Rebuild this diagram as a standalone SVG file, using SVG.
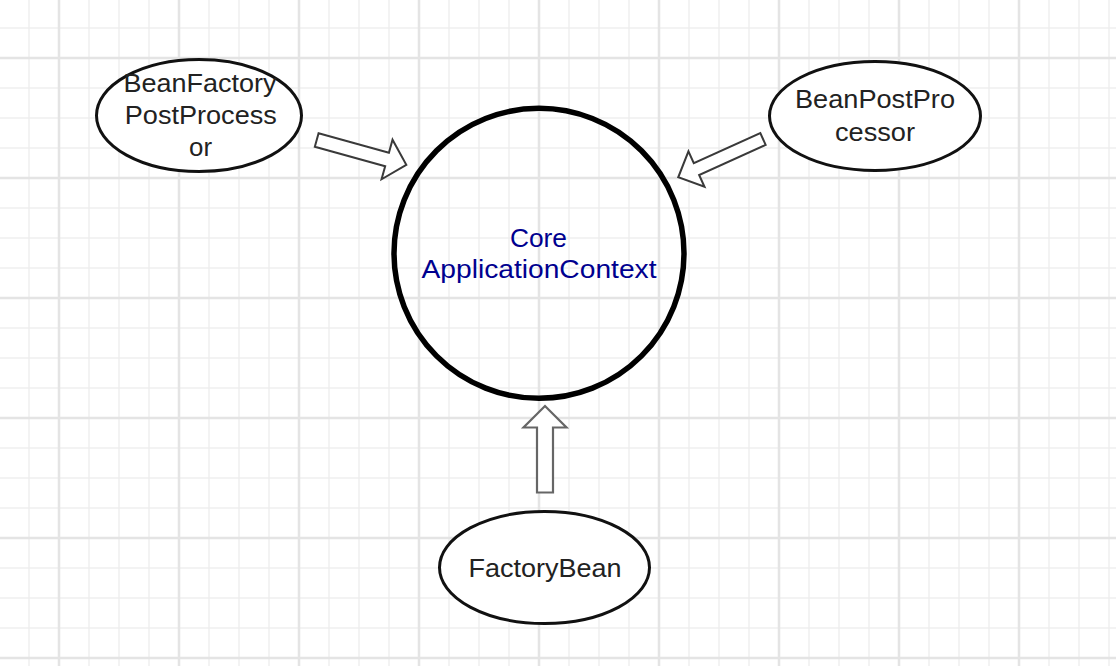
<svg xmlns="http://www.w3.org/2000/svg" width="1116" height="666" viewBox="0 0 1116 666">
<style>
.minor{stroke:#efefef;stroke-width:1.5;fill:none}
.major{stroke:#e4e4e4;stroke-width:2.5;fill:none}
.node{fill:#ffffff;stroke:#111111;stroke-width:3}
.core{fill:none;stroke:#000000;stroke-width:5.5}
.lbl{font-family:"Liberation Sans",Arial,sans-serif;font-size:26px;fill:#222222;text-anchor:middle}
.clbl{font-family:"Liberation Sans",Arial,sans-serif;font-size:26px;fill:#00008f;text-anchor:middle}
.arr{fill:#ffffff;stroke:#3a3a3a;stroke-width:2;stroke-linejoin:miter}
.arr2{fill:#ffffff;stroke:#666666;stroke-width:2.2;stroke-linejoin:miter}
</style>
<rect x="0" y="0" width="1116" height="666" fill="#ffffff"/>
<g id="grid">
<path class="minor" d="M29,0V666M89,0V666M119,0V666M149,0V666M209,0V666M239,0V666M269,0V666M329,0V666M359,0V666M389,0V666M449,0V666M479,0V666M509,0V666M569,0V666M599,0V666M629,0V666M689,0V666M719,0V666M749,0V666M809,0V666M839,0V666M869,0V666M929,0V666M959,0V666M989,0V666M1049,0V666M1079,0V666M1109,0V666M0,28H1116M0,88H1116M0,118H1116M0,148H1116M0,208H1116M0,238H1116M0,268H1116M0,328H1116M0,358H1116M0,388H1116M0,448H1116M0,478H1116M0,508H1116M0,568H1116M0,598H1116M0,628H1116"/>
<path class="major" d="M59,0V666M179,0V666M299,0V666M419,0V666M539,0V666M659,0V666M779,0V666M899,0V666M1019,0V666M0,58H1116M0,178H1116M0,298H1116M0,418H1116M0,538H1116M0,658H1116"/>
</g>
<g id="connectors">
<path class="arr" transform="translate(316.7,140) rotate(15.5)" d="M0,-7 L73,-7 L73,-20.5 L93,0 L73,20.5 L73,7 L0,7 Z"/>
<path class="arr" transform="translate(763,139) rotate(155.7)" d="M0,-6.5 L73,-6.5 L73,-19.5 L93,0 L73,19.5 L73,6.5 L0,6.5 Z"/>
<path class="arr2" transform="translate(545,492.5) rotate(-90)" d="M0,-8 L65,-8 L65,-21.5 L86.5,0 L65,21.5 L65,8 L0,8 Z"/>
</g>
<g id="core">
<circle class="core" cx="539" cy="253.3" r="145"/>
<text class="clbl" x="538.5" y="246.5" textLength="57" lengthAdjust="spacingAndGlyphs">Core</text>
<text class="clbl" x="539" y="278.3" textLength="235" lengthAdjust="spacingAndGlyphs">ApplicationContext</text>
</g>
<g id="beanFactoryPostProcessor">
<ellipse class="node" cx="199" cy="115.5" rx="102.5" ry="56"/>
<text class="lbl" x="200" y="92" textLength="153" lengthAdjust="spacingAndGlyphs">BeanFactory</text>
<text class="lbl" x="200.8" y="124" textLength="152" lengthAdjust="spacingAndGlyphs">PostProcess</text>
<text class="lbl" x="200.5" y="156" textLength="23" lengthAdjust="spacingAndGlyphs">or</text>
</g>
<g id="beanPostProcessor">
<ellipse class="node" cx="875" cy="116" rx="105.5" ry="54.5"/>
<text class="lbl" x="875" y="108.3" textLength="160" lengthAdjust="spacingAndGlyphs">BeanPostPro</text>
<text class="lbl" x="875" y="140.7" textLength="80" lengthAdjust="spacingAndGlyphs">cessor</text>
</g>
<g id="factoryBean">
<ellipse class="node" cx="544.5" cy="567.5" rx="105" ry="56"/>
<text class="lbl" x="545" y="576.7" textLength="153" lengthAdjust="spacingAndGlyphs">FactoryBean</text>
</g>
</svg>
